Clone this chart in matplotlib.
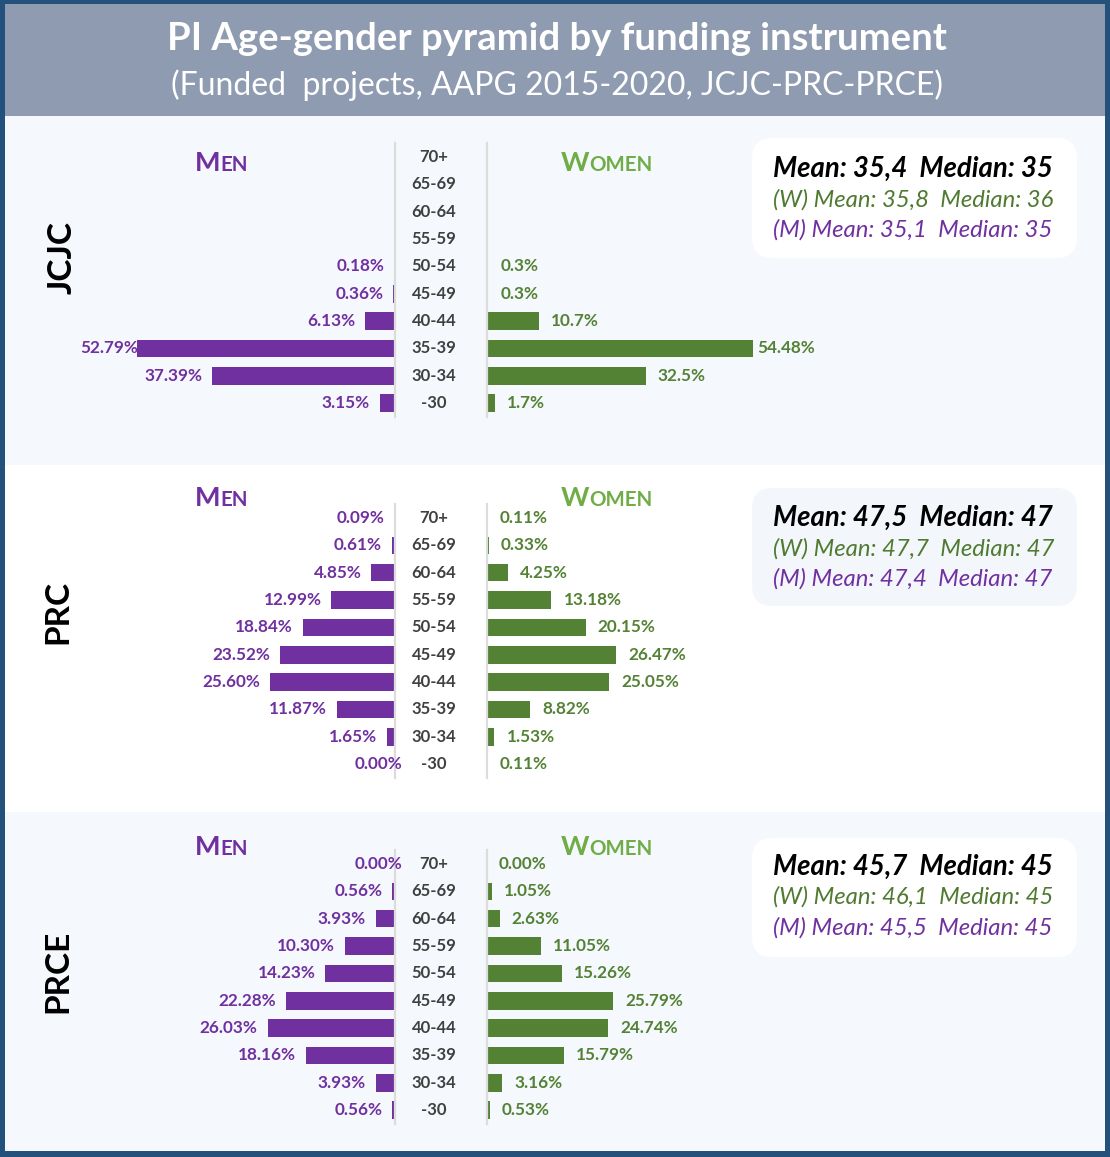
import matplotlib
matplotlib.use('Agg')
import matplotlib.pyplot as plt
from matplotlib.patches import Rectangle, FancyBboxPatch
import matplotlib.transforms as mtransforms

plt.rcParams['font.family'] = ['Lato', 'DejaVu Sans']

# ---------------- data ----------------
age_groups = ['-30', '30-34', '35-39', '40-44', '45-49', '50-54',
              '55-59', '60-64', '65-69', '70+']
instruments = ['JCJC', 'PRC', 'PRCE']

jcjc_men = [3.15, 37.39, 52.79, 6.13, 0.36, 0.18, None, None, None, None]
jcjc_women = [1.7, 32.5, 54.48, 10.7, 0.3, 0.3, None, None, None, None]
prc_men = [0.00, 1.65, 11.87, 25.60, 23.52, 18.84, 12.99, 4.85, 0.61, 0.09]
prc_women = [0.11, 1.53, 8.82, 25.05, 26.47, 20.15, 13.18, 4.25, 0.33, 0.11]
prce_men = [0.56, 3.93, 18.16, 26.03, 22.28, 14.23, 10.30, 3.93, 0.56, 0.00]
prce_women = [0.53, 3.16, 15.79, 24.74, 25.79, 15.26, 11.05, 2.63, 1.05, 0.00]

men_formats = ['{:.2f}%', '{:.2f}%', '{:.2f}%']
women_formats = ['{:g}%', '{:.2f}%', '{:.2f}%']

stats_all = ['Mean: 35,4  Median: 35', 'Mean: 47,5  Median: 47', 'Mean: 45,7  Median: 45']
stats_women = ['(W) Mean: 35,8  Median: 36', '(W) Mean: 47,7  Median: 47', '(W) Mean: 46,1  Median: 45']
stats_men = ['(M) Mean: 35,1  Median: 35', '(M) Mean: 47,4  Median: 47', '(M) Mean: 45,5  Median: 45']

title = 'PI Age-gender pyramid by funding instrument'
subtitle = '(Funded  projects, AAPG 2015-2020, JCJC-PRC-PRCE)'

men_data = [jcjc_men, prc_men, prce_men]
women_data = [jcjc_women, prc_women, prce_women]

# ---------------- style ----------------
PURPLE = '#7030a0'
GREEN = '#548235'
LGREEN = '#70ad47'
WGREEN = '#4f7a30'
AGEGRAY = '#404040'
BORDER = '#24507c'
TITLEBG = '#8f9bb1'
PANEL_LIGHT = '#f5f8fc'

W, H = 1110, 1157
fig = plt.figure(figsize=(W / 100, H / 100), dpi=100)
fig.patch.set_facecolor(BORDER)


def fx(px):
    return px / W


def fy(py):
    return 1 - py / H


def rect(x0, y0, x1, y1, color, z=0):
    r = Rectangle((fx(x0), fy(y1)), fx(x1) - fx(x0), (y1 - y0) / H,
                  transform=fig.transFigure, facecolor=color, edgecolor='none', zorder=z)
    fig.add_artist(r)


# backgrounds
rect(5, 4, 1105, 116, TITLEBG)
panel_bounds = [(116, 465), (465, 812), (812, 1151)]
panel_colors = [PANEL_LIGHT, 'white', PANEL_LIGHT]
box_colors = ['white', '#f3f7fb', 'white']
for (y0, y1), c in zip(panel_bounds, panel_colors):
    rect(5, y0, 1105, y1, c)

fig.text(fx(557), fy(39), title, color='white', fontsize=27.5, fontweight='bold',
         ha='center', va='center')
fig.text(fx(557), fy(85), subtitle, color='white', fontsize=23,
         ha='center', va='center')

PX_PER_PCT = 4.89
XMAX = 60
STEP = 27.35
row70_centers = [157, 518, 864]
header_y = [162, 497, 846]
stats_y = [(169, 200, 230), (518, 549, 579), (867, 897, 928)]
box_y = [(138, 258), (488, 606), (838, 957)]
label_pos = [(62, 258), (58, 612), (58, 971)]

MEN_RIGHT = 395
WOMEN_LEFT = 487
AX_W = XMAX * PX_PER_PCT
PLOT_LEFT_PX = 80
PLOT_RIGHT_PX = 815
LABEL_FS = 12.3

renderer = fig.canvas.get_renderer()


def small_caps(x, y, big, small, color, bs, ss):
    t1 = fig.text(fx(x), fy(y), big, color=color, fontsize=bs, fontweight='bold',
                  ha='left', va='baseline')
    bb = t1.get_window_extent(renderer=renderer)
    fig.text(bb.x1 / W, fy(y), small, color=color, fontsize=ss, fontweight='bold',
             ha='left', va='baseline')


men_labels = []
women_labels = []

for p in range(3):
    top = row70_centers[p] - STEP / 2
    height = 10 * STEP
    ax_m = fig.add_axes([fx(MEN_RIGHT - AX_W), fy(top + height), AX_W / W, height / H])
    ax_w = fig.add_axes([fx(WOMEN_LEFT), fy(top + height), AX_W / W, height / H])
    for ax in (ax_m, ax_w):
        ax.set_facecolor('none')
        ax.set_ylim(-0.5, 9.5)
        ax.set_xticks([])
        ax.set_yticks([])
        for s in ax.spines.values():
            s.set_visible(False)
    ax_m.set_xlim(XMAX, 0)
    ax_w.set_xlim(0, XMAX)
    ax_m.spines['right'].set_visible(True)
    ax_m.spines['right'].set_color('#dcdcdc')
    ax_m.spines['right'].set_linewidth(1.6)
    ax_w.spines['left'].set_visible(True)
    ax_w.spines['left'].set_color('#dcdcdc')
    ax_w.spines['left'].set_linewidth(1.6)

    men = men_data[p]
    women = women_data[p]
    for i in range(10):
        if men[i] is not None:
            ax_m.barh(i, men[i], height=0.64, color=PURPLE, zorder=2)
            off = -10 if men[i] > 0 else 7
            a = ax_m.annotate(men_formats[p].format(men[i]), xy=(men[i], i),
                              xytext=(off * 0.72, 0), textcoords='offset points',
                              ha='right', va='center', color=PURPLE,
                              fontsize=LABEL_FS, fontweight='bold')
            men_labels.append(a)
        if women[i] is not None:
            ax_w.barh(i, women[i], height=0.64, color=GREEN, zorder=2)
            a = ax_w.annotate(women_formats[p].format(women[i]), xy=(women[i], i),
                              xytext=(12 * 0.72, 0), textcoords='offset points',
                              ha='left', va='center', color=GREEN,
                              fontsize=LABEL_FS, fontweight='bold')
            women_labels.append(a)
        tr = mtransforms.blended_transform_factory(fig.transFigure, ax_m.transData)
        ax_m.text(fx(434), i, age_groups[i], transform=tr, ha='center', va='center',
                  color=AGEGRAY, fontsize=12, fontweight='bold')

    # headers
    small_caps(195, header_y[p] + 9, 'M', 'EN', PURPLE, 19.5, 14.8)
    small_caps(561, header_y[p] + 9, 'W', 'OMEN', LGREEN, 19.5, 14.8)

    # stats box
    by0, by1 = box_y[p]
    box = FancyBboxPatch((fx(752), fy(by1)), fx(1077) - fx(752), (by1 - by0) / H,
                         boxstyle='round,pad=0,rounding_size=0.018',
                         transform=fig.transFigure, facecolor=box_colors[p],
                         edgecolor='none', zorder=1)
    fig.add_artist(box)
    s1, s2, s3 = stats_y[p]
    fig.text(fx(773), fy(s1), stats_all[p], color='black', fontsize=19.8,
             fontweight='bold', fontstyle='italic', ha='left', va='center', zorder=3)
    fig.text(fx(773), fy(s2), stats_women[p], color=WGREEN, fontsize=17.2,
             fontstyle='italic', ha='left', va='center', zorder=3)
    fig.text(fx(773), fy(s3), stats_men[p], color=PURPLE, fontsize=17.2,
             fontstyle='italic', ha='left', va='center', zorder=3)

    lx, ly = label_pos[p]
    fig.text(fx(lx), fy(ly), instruments[p], color='black', fontsize=24,
             fontweight='bold', rotation=90, ha='center', va='center')

# keep labels inside the plot area (as the spreadsheet chart does)
fig.canvas.draw()
for a in men_labels:
    bb = a.get_window_extent(renderer=renderer)
    if bb.x0 < PLOT_LEFT_PX:
        dx, dy = a.xyann
        a.xyann = (dx + (PLOT_LEFT_PX - bb.x0) * 0.72, dy)
for a in women_labels:
    bb = a.get_window_extent(renderer=renderer)
    if bb.x1 > PLOT_RIGHT_PX:
        dx, dy = a.xyann
        a.xyann = (dx - (bb.x1 - PLOT_RIGHT_PX) * 0.72, dy)

fig.savefig('out.png', dpi=100, facecolor=fig.get_facecolor())
